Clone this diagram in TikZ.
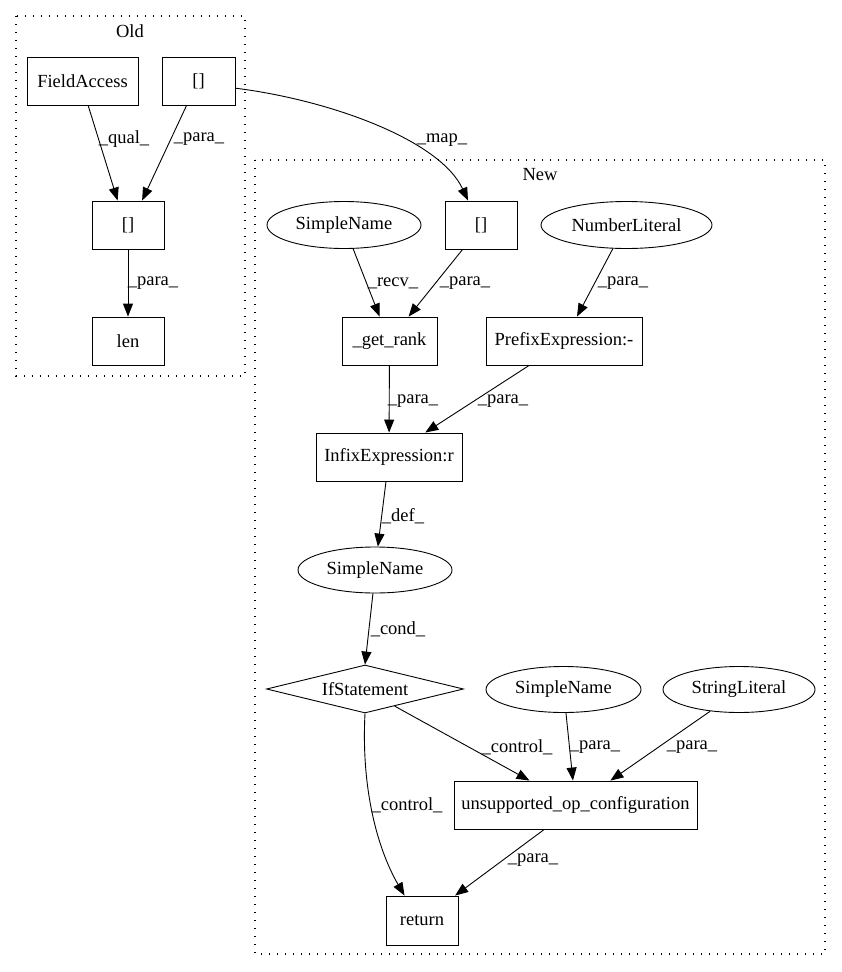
\documentclass[tikz,border=0pt]{standalone}
\usepackage{fontspec}
\setmainfont{Liberation Serif}
\usetikzlibrary{arrows.meta,shapes.geometric}

\begin{document}
\begin{tikzpicture}[x = 1pt, y = -1pt, font = \fontsize{18.5}{20}\selectfont,
box/.style = {draw, shape = rectangle, line width = 0.9pt, minimum height = 48, inner sep = 0},
oval/.style = {draw, shape = ellipse, line width = 0.9pt, minimum height = 47, inner sep = 0},
edge/.style = {line width = 0.9pt, -{Triangle[length = 13pt, width = 10pt]}},
cluster/.style = {line width = 1.3pt, dash pattern = on 1.4pt off 6.6pt}]
\useasboundingbox (0,0) rectangle (841,972);

% clusters
\draw[cluster] (16,16) rectangle (245,376);
\draw[cluster] (255,160) rectangle (825,954);
\node (old) at (130,31) {Old};
\node (new) at (540,175) {New};

% old graph
\node[box, minimum width = 111] (1) at (82.5,81) {FieldAccess};
\node[box, minimum width = 73] (2) at (198.5,81) {[]};
\node[box, minimum width = 72] (3) at (128,225) {[]};
\node[box, minimum width = 72] (4) at (128,341) {len};

% new graph
\node[box, minimum width = 72] (5) at (481,225) {[]};
\node[oval, minimum width = 154] (6) at (344,225) {SimpleName};
\node[oval, minimum width = 171] (7) at (626.5,225) {NumberLiteral};
\node[box, minimum width = 95] (8) at (389.5,341) {\_get\_rank};
\node[box, minimum width = 156] (9) at (564,341) {PrefixExpression:-};
\node[box, minimum width = 146] (10) at (389,457) {InfixExpression:r};
\node[oval, minimum width = 154, minimum height = 46] (11) at (375,570) {SimpleName};
\node[draw, shape = diamond, aspect = 4, line width = 0.9pt, inner sep = 0, minimum width = 197, minimum height = 48] (12) at (365,689) {IfStatement};
\node[oval, minimum width = 155, minimum height = 46] (13) at (563.5,689.5) {SimpleName};
\node[oval, minimum width = 152, minimum height = 46] (14) at (739,689.5) {StringLiteral};
\node[box, minimum width = 243] (15) at (575.5,805) {unsupported\_op\_configuration};
\node[box, minimum width = 72, minimum height = 49] (16) at (422,920.5) {return};

\draw[edge] (1.-77) -- (3.113);
\draw[edge] (2.-116) -- (3.60);
\draw[edge] (3) -- (4);
\draw[edge] (2.-11) .. controls (330,100) and (440,140) .. (5.118);
\draw[edge] (6.-69) -- (8.112);
\draw[edge] (5.-127) -- (8.52);
\draw[edge] (7.-120) -- (9.62);
\draw[edge] (8) -- (10);
\draw[edge] (9.-145) -- (10.34);
\draw[edge] (10.-97) -- (11.83);
\draw[edge] (11.-95) -- (12.north);
\draw[edge] (12.-30) -- (15.152);
\draw[edge] (12.south) .. controls (361,790) and (378,850) .. (16.125);
\draw[edge] (13.-84) -- (15.96);
\draw[edge] (14.-143) -- (15.35);
\draw[edge] (15.-142) -- (16.37);

\begin{scope}[nodes = {draw = none}]
\node (l1) at (124,139) {\_qual\_};
\node (l2) at (199,139) {\_para\_};
\node (l3) at (153,283) {\_para\_};
\node (l4) at (442,140) {\_map\_};
\node (l5) at (393,283) {\_recv\_};
\node (l6) at (465,283) {\_para\_};
\node (l7) at (623,283) {\_para\_};
\node (l8) at (413,401) {\_para\_};
\node (l9) at (503,401) {\_para\_};
\node (l10) at (403,516) {\_def\_};
\node (l11) at (398,629) {\_cond\_};
\node (l12) at (517,747) {\_control\_};
\node (l13) at (595,747) {\_para\_};
\node (l14) at (692,747) {\_para\_};
\node (l15) at (407,805) {\_control\_};
\node (l16) at (533,860) {\_para\_};
\end{scope}
\end{tikzpicture}
\end{document}
